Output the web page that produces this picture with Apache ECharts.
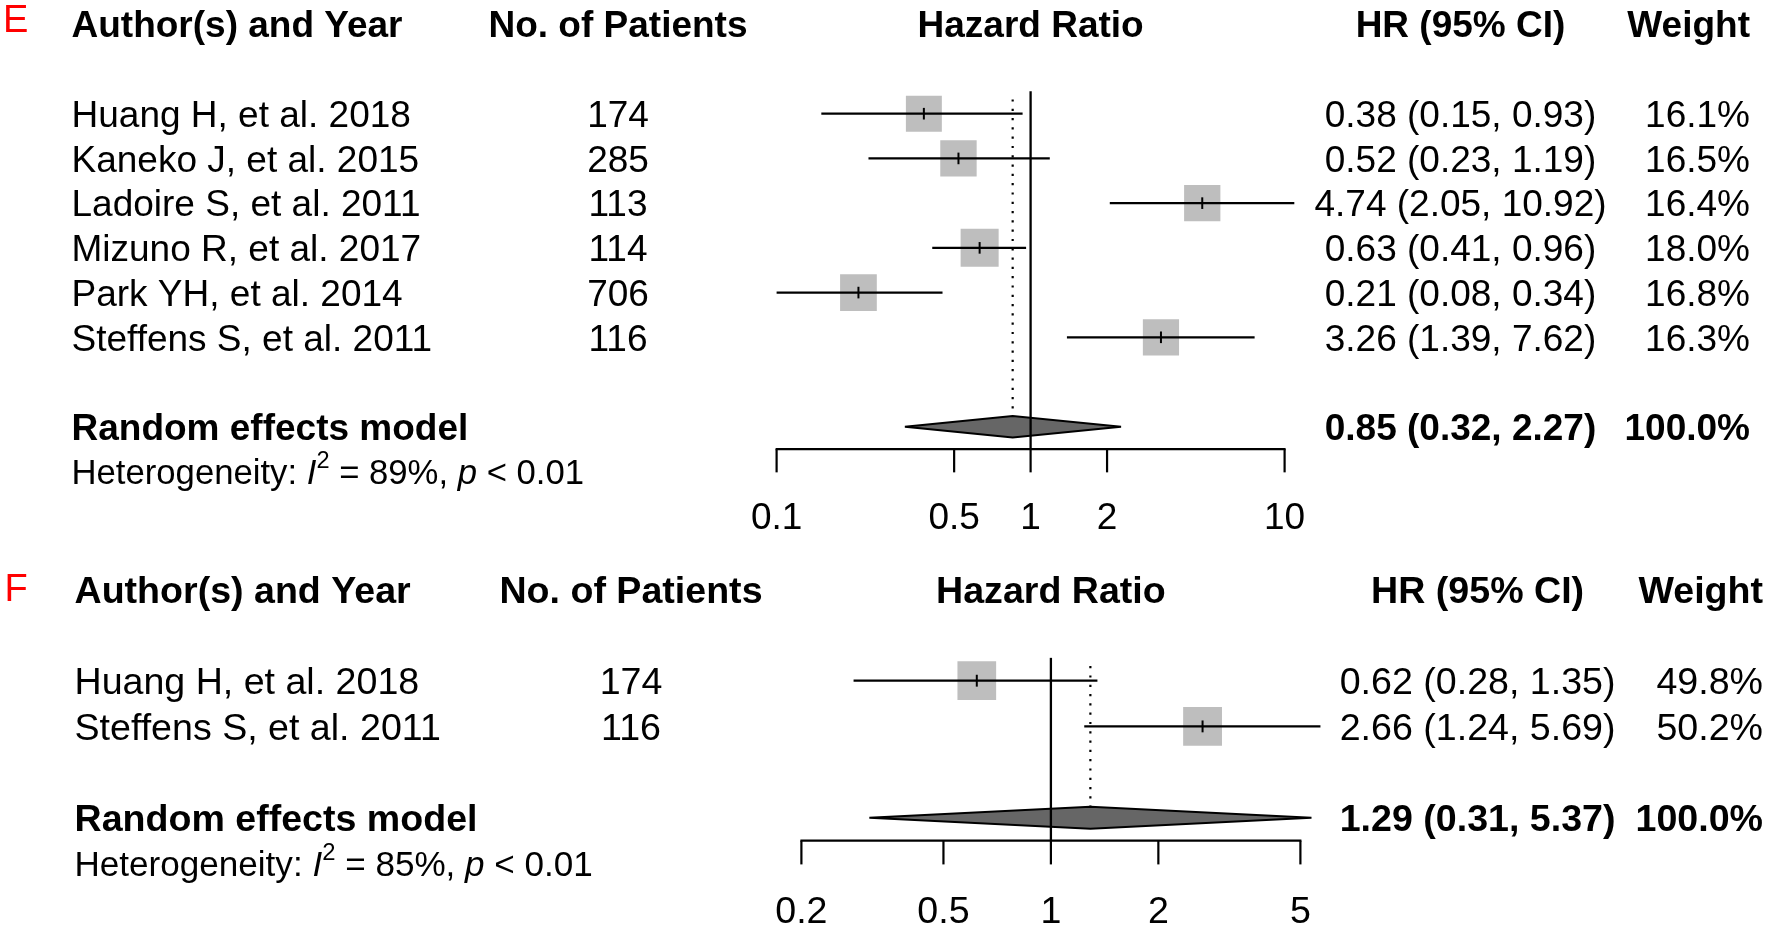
<!DOCTYPE html>
<html><head><meta charset="utf-8">
<script src="https://cdn.jsdelivr.net/npm/echarts/dist/echarts.min.js"></script>
<style>html,body{margin:0;padding:0;background:#fff}#chart{width:1770px;height:929px}</style>
</head><body><div id="chart"></div>
<script>
// ---------------- data ----------------
const headers = ['Author(s) and Year', 'No. of Patients', 'Hazard Ratio', 'HR (95% CI)', 'Weight'];
const pooledLabel = 'Random effects model';
const nullEffect = 1;

// Panel E
const studiesE = ['Huang H, et al. 2018', 'Kaneko J, et al. 2015', 'Ladoire S, et al. 2011',
                  'Mizuno R, et al. 2017', 'Park YH, et al. 2014', 'Steffens S, et al. 2011'];
const patientsE = [174, 285, 113, 114, 706, 116];
// values of the drawn marks
const hrE = [0.38, 0.52, 4.74, 0.63, 0.21, 3.26];
const lowerE = [0.15, 0.23, 2.05, 0.41, 0.08, 1.39];
const upperE = [0.93, 1.19, 10.92, 0.96, 0.45, 7.62];
const weightE = [16.1, 16.5, 16.4, 18.0, 16.8, 16.3];
// text column as printed
const ciLabelsE = ['0.38 (0.15, 0.93)', '0.52 (0.23, 1.19)', '4.74 (2.05, 10.92)',
                   '0.63 (0.41, 0.96)', '0.21 (0.08, 0.34)', '3.26 (1.39, 7.62)'];
const pooledE = [0.85, 0.32, 2.27];   // HR, lower, upper
const pooledLabelE = '0.85 (0.32, 2.27)';
const pooledWeightE = 100.0;
const hetI2E = 89;
const hetPE = '< 0.01';
const ticksE = [0.1, 0.5, 1, 2, 10];

// Panel F
const studiesF = ['Huang H, et al. 2018', 'Steffens S, et al. 2011'];
const patientsF = [174, 116];
const hrF = [0.62, 2.66];
const lowerF = [0.28, 1.24];
const upperF = [1.35, 5.69];
const weightF = [49.8, 50.2];
const ciLabelsF = ['0.62 (0.28, 1.35)', '2.66 (1.24, 5.69)'];
const pooledF = [1.29, 0.31, 5.37];
const pooledLabelF = '1.29 (0.31, 5.37)';
const pooledWeightF = 100.0;
const hetI2F = 85;
const hetPF = '< 0.01';
const ticksF = [0.2, 0.5, 1, 2, 5];

// ---------------- layout / style ----------------
const FONT = '"Liberation Sans", Arial, Helvetica, sans-serif';
const SQUARE_FILL = '#bebebe';
const DIAMOND_FILL = '#666666';
const TEXT_DY = 3;

const layoutE = { letter: 'E', letterX: 3, letterDy: -6, y0: 113.7, rowH: 44.72, plotLeft: 776.6, plotWidth: 508,
  studyX: 71.5, patientsCX: 618, hrCX: 1460.5, weightRX: 1750, fs: 37, hetFs: 34.7, tickFs: 37 };
const layoutF = { letter: 'F', letterX: 4.5, letterDy: -1.5, y0: 680.7, rowH: 45.7, plotLeft: 801.4, plotWidth: 499,
  studyX: 74.5, patientsCX: 631, hrCX: 1477.6, weightRX: 1763, fs: 37.6, hetFs: 35.1, tickFs: 37.6 };

const fmtW = w => `${w.toFixed(1)}%`;

function txt(x, y, text, fs, align, bold) {
  return {
    type: 'text', x: x, y: y + TEXT_DY,
    style: { text: text, fill: '#000', fontFamily: FONT, fontSize: fs, fontWeight: bold ? 'bold' : 'normal',
             align: align, verticalAlign: 'middle' }
  };
}

function buildPanel(gi, D, L, opt) {
  const n = D.studies.length;
  const pooledRow = n + 1, axisRow = n + 1.5, hetRow = n + 2, tickRow = n + 3, headRow = -2;
  const xMin = D.ticks[0], xMax = D.ticks[D.ticks.length - 1];
  opt.grid.push({ left: L.plotLeft, width: L.plotWidth, top: L.y0 - 0.5 * L.rowH, height: (axisRow + 0.5) * L.rowH, containLabel: false });
  opt.xAxis.push({ gridIndex: gi, type: 'log', logBase: 10, min: xMin, max: xMax, show: false });
  opt.yAxis.push({ gridIndex: gi, type: 'value', min: -0.5, max: axisRow, inverse: true, show: false });
  const base = () => ({ type: 'custom', xAxisIndex: gi, yAxisIndex: gi, silent: true, animation: false, clip: false, encode: { x: 1, y: 0 } });
  const rowPx = api => api.coord([1, 1])[1] - api.coord([1, 0])[1];
  const maxW = Math.max.apply(null, D.weights);

  // study squares + CI lines
  opt.series.push(Object.assign(base(), {
    data: D.studies.map((s, i) => [i, D.hr[i], D.lower[i], D.upper[i], D.weights[i]]),
    renderItem: (p, api) => {
      const row = api.value(0), hr = api.value(1), lo = api.value(2), hi = api.value(3), w = api.value(4);
      const rp = rowPx(api);
      const c = api.coord([hr, row]);
      const a = api.coord([Math.max(lo, xMin), row]);
      const b = api.coord([hi, row]);
      const s = 0.85 * rp * Math.sqrt(w / maxW);
      const t = 0.13 * rp;
      return { type: 'group', children: [
        { type: 'rect', shape: { x: c[0] - s / 2, y: c[1] - s / 2, width: s, height: s }, style: { fill: SQUARE_FILL } },
        { type: 'line', shape: { x1: a[0], y1: a[1], x2: b[0], y2: b[1] }, style: { stroke: '#000', lineWidth: 2.3 } },
        { type: 'line', shape: { x1: c[0], y1: c[1] - t, x2: c[0], y2: c[1] + t }, style: { stroke: '#000', lineWidth: 2 } }
      ] };
    }
  }));

  // pooled diamond
  opt.series.push(Object.assign(base(), {
    data: [[pooledRow, D.pooled[0], D.pooled[1], D.pooled[2]]],
    renderItem: (p, api) => {
      const row = api.value(0), hr = api.value(1), lo = api.value(2), hi = api.value(3);
      const h = 0.24;
      return { type: 'polygon', shape: { points: [
        api.coord([lo, row]), api.coord([hr, row - h]), api.coord([hi, row]), api.coord([hr, row + h])
      ] }, style: { fill: DIAMOND_FILL, stroke: '#000', lineWidth: 2, lineJoin: 'miter' } };
    }
  }));

  // reference lines: solid at null effect, dotted at pooled estimate
  opt.series.push(Object.assign(base(), {
    data: [[0, nullEffect, D.pooled[0]]],
    renderItem: (p, api) => {
      const ne = api.value(1), pe = api.value(2);
      const s1 = api.coord([ne, -0.5]), s2 = api.coord([ne, axisRow]);
      const d1 = api.coord([pe, -0.32]), d2 = api.coord([pe, pooledRow - 0.26]);
      return { type: 'group', children: [
        { type: 'line', shape: { x1: d1[0], y1: d1[1], x2: d2[0], y2: d2[1] },
          style: { stroke: '#000', lineWidth: 2.2, lineDash: [2.2, 7.1] } },
        { type: 'line', shape: { x1: s1[0], y1: s1[1], x2: s2[0], y2: s2[1] }, style: { stroke: '#000', lineWidth: 2.3 } }
      ] };
    }
  }));

  // x axis line
  opt.series.push(Object.assign(base(), {
    data: [[axisRow, xMin, xMax]],
    renderItem: (p, api) => {
      const a = api.coord([api.value(1), api.value(0)]), b = api.coord([api.value(2), api.value(0)]);
      return { type: 'line', shape: { x1: a[0] - 1, y1: a[1], x2: b[0] + 1, y2: b[1] }, style: { stroke: '#000', lineWidth: 2.2 } };
    }
  }));
  // ticks + labels
  opt.series.push(Object.assign(base(), {
    data: D.ticks.map(t => [axisRow, t]),
    renderItem: (p, api) => {
      const t = api.value(1);
      const a = api.coord([t, axisRow]), b = api.coord([t, axisRow + 0.52]);
      const l = api.coord([t, tickRow]);
      return { type: 'group', children: [
        { type: 'line', shape: { x1: a[0], y1: a[1], x2: b[0], y2: b[1] }, style: { stroke: '#000', lineWidth: 2.2 } },
        txt(l[0], l[1], String(D.ticks[p.dataIndex]), L.tickFs, 'center', false)
      ] };
    }
  }));

  // study text columns
  opt.series.push(Object.assign(base(), {
    data: D.studies.map((s, i) => [i, nullEffect]),
    renderItem: (p, api) => {
      const i = p.dataIndex;
      const y = api.coord([1, api.value(0)])[1];
      return { type: 'group', children: [
        txt(L.studyX, y, D.studies[i], L.fs, 'left', false),
        txt(L.patientsCX, y, String(D.patients[i]), L.fs, 'center', false),
        txt(L.hrCX, y, D.ciLabels[i], L.fs, 'center', false),
        txt(L.weightRX, y, fmtW(D.weights[i]), L.fs, 'right', false)
      ] };
    }
  }));

  // headers, pooled row, heterogeneity, panel letter
  opt.series.push(Object.assign(base(), {
    data: [[headRow, nullEffect, pooledRow, hetRow]],
    renderItem: (p, api) => {
      const yh = api.coord([1, api.value(0)])[1];
      const yp = api.coord([1, api.value(2)])[1];
      const yt = api.coord([1, api.value(3)])[1];
      const xmid = (api.coord([xMin, 0])[0] + api.coord([xMax, 0])[0]) / 2;
      const rich = {
        n: { fill: '#000', fontFamily: FONT, fontSize: L.hetFs, lineHeight: 50, verticalAlign: 'middle' },
        i: { fill: '#000', fontFamily: FONT, fontSize: L.hetFs, fontStyle: 'italic', lineHeight: 50, verticalAlign: 'middle' },
        s: { fill: '#000', fontFamily: FONT, fontSize: L.hetFs * 0.68, lineHeight: 24, verticalAlign: 'top' }
      };
      return { type: 'group', children: [
        { type: 'text', x: L.letterX, y: yh + L.letterDy + TEXT_DY,
          style: { text: L.letter, fill: '#ff0000', fontFamily: FONT, fontSize: 38, align: 'left', verticalAlign: 'middle' } },
        txt(L.studyX, yh, headers[0], L.fs, 'left', true),
        txt(L.patientsCX, yh, headers[1], L.fs, 'center', true),
        txt(xmid, yh, headers[2], L.fs, 'center', true),
        txt(L.hrCX, yh, headers[3], L.fs, 'center', true),
        txt(L.weightRX, yh, headers[4], L.fs, 'right', true),
        txt(L.studyX, yp, pooledLabel, L.fs, 'left', true),
        txt(L.hrCX, yp, D.pooledLabel, L.fs, 'center', true),
        txt(L.weightRX, yp, fmtW(D.pooledWeight), L.fs, 'right', true),
        { type: 'text', x: L.studyX, y: yt + TEXT_DY, style: {
            text: `{n|Heterogeneity: }{i|I}{s|2}{n| = ${D.hetI2}%, }{i|p}{n| ${D.hetP}}`,
            rich: rich, fontFamily: FONT, fontSize: L.hetFs, align: 'left', verticalAlign: 'middle' } }
      ] };
    }
  }));
}

const option = { backgroundColor: '#ffffff', animation: false, grid: [], xAxis: [], yAxis: [], series: [] };
buildPanel(0, { studies: studiesE, patients: patientsE, hr: hrE, lower: lowerE, upper: upperE, weights: weightE,
  ciLabels: ciLabelsE, pooled: pooledE, pooledLabel: pooledLabelE, pooledWeight: pooledWeightE,
  hetI2: hetI2E, hetP: hetPE, ticks: ticksE }, layoutE, option);
buildPanel(1, { studies: studiesF, patients: patientsF, hr: hrF, lower: lowerF, upper: upperF, weights: weightF,
  ciLabels: ciLabelsF, pooled: pooledF, pooledLabel: pooledLabelF, pooledWeight: pooledWeightF,
  hetI2: hetI2F, hetP: hetPF, ticks: ticksF }, layoutF, option);

const chart = echarts.init(document.getElementById('chart'), null, { renderer: 'canvas', width: 1770, height: 929 });
chart.setOption(option);
</script>
</body></html>
